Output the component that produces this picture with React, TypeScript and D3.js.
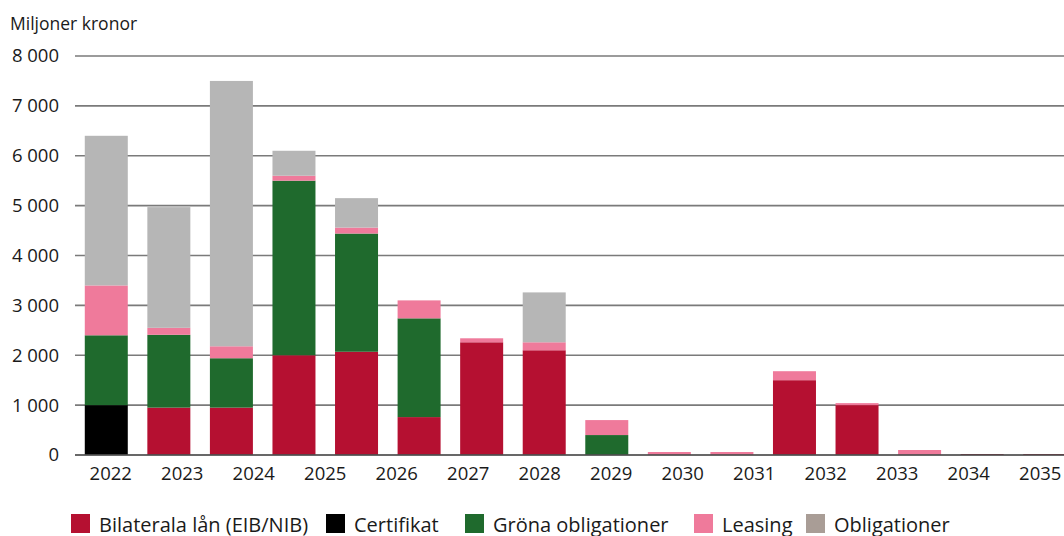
import React from "react";
import * as d3 from "d3";

// ---- Data (millions SEK) ----
const barYears = ["2022","2023","2024","2025","2026","2027","2028","2029","2030","2031","2032","2033","2034","2035","2036","2037"];
const tickLabels = ["2022","2023","2024","2025","2026","2027","2028","2029","2030","2031","2032","2033","2034","2035"];

const bilateralaLan = [0, 950, 950, 2000, 2070, 760, 2260, 2100, 0, 0, 0, 1500, 1000, 0, 20, 20];
const certifikat   = [1000, 0, 0, 0, 0, 0, 0, 0, 0, 0, 0, 0, 0, 0, 0, 0];
const gronaObl     = [1400, 1460, 990, 3500, 2370, 1980, 0, 0, 400, 0, 0, 0, 0, 0, 0, 0];
const leasing      = [1000, 140, 240, 100, 120, 360, 80, 160, 300, 60, 60, 180, 40, 100, 0, 0];
const obligationer = [3000, 2420, 5320, 500, 590, 0, 0, 1000, 0, 0, 0, 0, 0, 0, 0, 0];

const yTicks = [0, 1000, 2000, 3000, 4000, 5000, 6000, 7000, 8000];

const seriesNames = ["Bilaterala lån (EIB/NIB)", "Certifikat", "Gröna obligationer", "Leasing", "Obligationer"];
const seriesColors = ["#b51031", "#000000", "#1f6a2d", "#ef7a9b", "#b6b6b6"];
const legendColors = ["#b51031", "#000000", "#1f6a2d", "#ef7a9b", "#a99d96"];

const W = 1064, H = 536;
const FONT = "'Open Sans', 'Noto Sans', sans-serif";

export default function App() {
  const valuesBySeries = [bilateralaLan, certifikat, gronaObl, leasing, obligationer];
  const rows = barYears.map((yr, i) => {
    const r: any = { year: yr };
    seriesNames.forEach((s, k) => (r[s] = valuesBySeries[k][i]));
    return r;
  });
  const stack = d3.stack<any>().keys(seriesNames)(rows);

  const x = d3.scaleBand<string>().domain(barYears).range([75, 1076]).paddingInner(0.3127).paddingOuter(0.3127 / 2);
  const xt = d3.scaleBand<string>().domain(tickLabels).range([75, 1076]);
  const y = d3.scaleLinear().domain([0, 8000]).range([455, 56]);

  const fmt = (v: number) => d3.format(",")(v).replace(/,/g, " ");

  const legendX = [71, 326, 465, 694, 806];

  return (
    <svg width={W} height={H} style={{ position: "absolute", left: 0, top: 0, background: "#fff" }} fontFamily={FONT}>
      <text x={10} y={30} fontSize={17.5} fill="#1a1a1a">Miljoner kronor</text>
      {yTicks.map((t) => (
        <g key={t}>
          {t > 0 && <line x1={75} x2={W} y1={y(t)} y2={y(t)} stroke="#7a7a7a" strokeWidth={1.6} />}
          <text x={59} y={y(t)} dy="0.35em" textAnchor="end" fontSize={18.5} fill="#1a1a1a">{fmt(t)}</text>
        </g>
      ))}
      {stack.map((layer, k) => (
        <g key={layer.key} fill={seriesColors[k]}>
          {layer.map((d, i) =>
            d[1] - d[0] > 0 ? (
              <rect key={i} x={x(barYears[i])} width={x.bandwidth()} y={y(d[1])} height={y(d[0]) - y(d[1])} />
            ) : null
          )}
        </g>
      ))}
      <line x1={75} x2={W} y1={y(0)} y2={y(0)} stroke="#4d4d4d" strokeWidth={2.2} strokeOpacity={0.85} />
      {tickLabels.map((t) => (
        <text key={t} x={(xt(t) as number) + xt.bandwidth() / 2} y={480} textAnchor="middle" fontSize={18.5} fill="#1a1a1a">{t}</text>
      ))}
      {seriesNames.map((s, k) => (
        <g key={s} transform={`translate(${legendX[k]},514)`}>
          <rect width={19} height={19} fill={legendColors[k]} />
          <text x={28} y={17.5} fontSize={20} fill="#1a1a1a">{s}</text>
        </g>
      ))}
    </svg>
  );
}
